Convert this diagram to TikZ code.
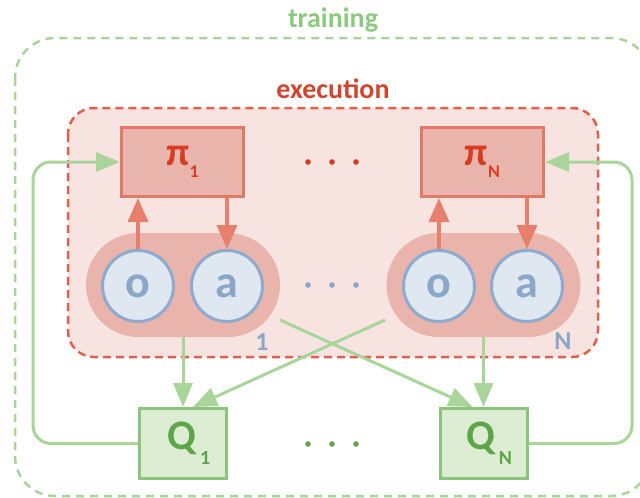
\documentclass[tikz,border=0pt]{standalone}
\usepackage{fontspec}
\setmainfont{Carlito}
\usetikzlibrary{arrows.meta,calc}
\definecolor{gline}{HTML}{A9D49A}
\definecolor{gbox}{HTML}{DCEDD4}
\definecolor{gborder}{HTML}{8DC47C}
\definecolor{gtext}{HTML}{5DA548}
\definecolor{gtitle}{HTML}{8CC97E}
\definecolor{rdash}{HTML}{E0604C}
\definecolor{execfill}{HTML}{F7E4E1}
\definecolor{pifill}{HTML}{E8B4AB}
\definecolor{piborder}{HTML}{E07A66}
\definecolor{pitext}{HTML}{D63C22}
\definecolor{rarrow}{HTML}{E6806C}
\definecolor{execlabel}{HTML}{D2452F}
\definecolor{circfill}{HTML}{DFE7F0}
\definecolor{circborder}{HTML}{8EABCF}
\definecolor{circtext}{HTML}{8AA7CA}
\newcommand{\mysub}[2]{{\fontsize{#1}{#1}\selectfont #2}}
\tikzset{
  gdash/.style={draw=gline, line width=2.5pt, dash pattern=on 8pt off 6pt},
  rdashed/.style={draw=rdash, line width=2.5pt, dash pattern=on 8pt off 5pt},
  pibox/.style={draw=piborder, fill=pifill, line width=3pt, minimum width=122pt, minimum height=69pt, inner sep=0pt, text=pitext, font=\bfseries\fontsize{40}{40}\selectfont},
  qbox/.style={draw=gborder, fill=gbox, line width=3pt, minimum width=87pt, minimum height=70pt, inner sep=0pt, text=gtext, font=\bfseries\fontsize{42}{42}\selectfont},
  pill/.style={fill=pifill, minimum width=194pt, minimum height=104pt, rounded corners=52pt, inner sep=0pt},
  circ/.style={circle, draw=circborder, fill=circfill, line width=3pt, minimum size=71pt, inner sep=0pt, text=circtext, font=\bfseries\fontsize{46}{46}\selectfont},
  redarrow/.style={draw=rarrow, line width=3.5pt, -{Triangle[length=24pt,width=20pt]}},
  greenarrow/.style={draw=gline, line width=3pt, -{Triangle[length=24pt,width=19pt]}},
  title/.style={font=\bfseries\fontsize{28}{28}\selectfont},
  sublabel/.style={text=circtext, font=\bfseries\fontsize{26}{26}\selectfont},
}
\begin{document}
\begin{tikzpicture}[x=1pt,y=-1pt]
\useasboundingbox (0,0) rectangle (640,498);
\fill[white] (0,0) rectangle (640,498);
% training
\draw[gdash, rounded corners=40pt] (15,38) rectangle (651,496);
\node[title, text=gtitle] (trainlbl) at (333,20) {training};
% execution
\draw[rdashed, fill=execfill, rounded corners=26pt] (68,108) rectangle (598,357);
\node[title, text=execlabel] (execlbl) at (333,89) {execution};
% policies
\node[pibox] (pi1) at (182.5,162) {π\raisebox{-0.3em}{\mysub{18}{1}}};
\node[pibox] (piN) at (482.5,162) {π\raisebox{-0.3em}{\mysub{18}{N}}};
% pills
\node[pill] (pill1) at (183,285) {};
\node[pill] (pillN) at (483.5,285) {};
\node[circ] (o1) at (138,286) {o};
\node[circ] (a1) at (227,286) {a};
\node[circ] (oN) at (439,286) {o};
\node[circ] (aN) at (527,286) {a};
\node[sublabel] (lbl1) at (262,342) {1};
\node[sublabel] (lblN) at (563,341) {N};
% critics
\node[qbox] (Q1) at (183,443.5) {\hspace{12pt}Q\raisebox{-0.35em}{\mysub{20}{\,1}}};
\node[qbox] (QN) at (483.5,443.5) {\hspace{12pt}Q\raisebox{-0.35em}{\mysub{20}{\,N}}};
% red arrows
\draw[redarrow] (o1.north) -- (o1.north |- pi1.south);
\draw[redarrow] (a1.north |- pi1.south) -- (a1.north);
\draw[redarrow] (oN.north) -- (oN.north |- piN.south);
\draw[redarrow] (aN.north |- piN.south) -- (aN.north);
% green arrows
\coordinate (c1) at (280,320);
\coordinate (cN) at (385,320);
\draw[greenarrow] (pill1.south) -- (Q1.north);
\draw[greenarrow] (pillN.south) -- (QN.north);
\draw[greenarrow] (c1) -- ($(QN.north)+(-11,0)$);
\draw[greenarrow] (cN) -- ($(Q1.north)+(10,0)$);
\draw[greenarrow, rounded corners=18pt] (Q1.west) -- (33,443.5) -- (33,162) -- (pi1.west);
\draw[greenarrow, rounded corners=18pt] (QN.east) -- (632,443.5) -- (632,162) -- (piN.east);
% dots
\foreach \x/\n in {308/1,332/2,356/3} {
  \fill[pitext] (\x,162) circle (2.8pt);
  \fill[circtext] (\x,285) circle (2.8pt);
  \fill[gtext] (\x,444) circle (2.8pt);
}
\end{tikzpicture}
\end{document}
